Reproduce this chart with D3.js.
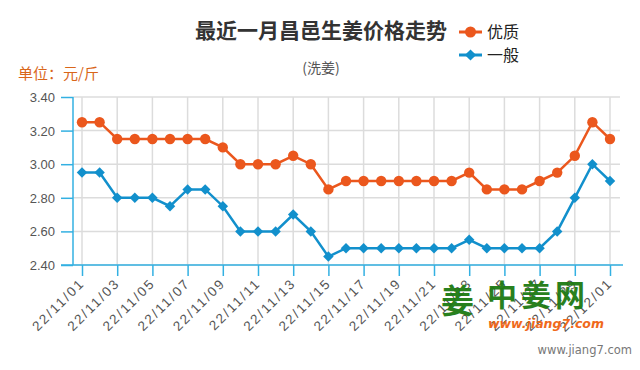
<!DOCTYPE html>
<html>
<head>
<meta charset="utf-8">
<script src="https://cdn.jsdelivr.net/npm/d3@7"></script>
<style>
  body { margin: 0; background: #fff; }
  svg { font-family: "DejaVu Sans", "Noto Sans CJK SC", sans-serif; }
</style>
</head>
<body>
<svg id="chart" width="640" height="370"></svg>
<script>
// dates 22/11/01 .. 22/12/01
var dates = ["22/11/01","22/11/02","22/11/03","22/11/04","22/11/05","22/11/06","22/11/07","22/11/08",
  "22/11/09","22/11/10","22/11/11","22/11/12","22/11/13","22/11/14","22/11/15","22/11/16","22/11/17",
  "22/11/18","22/11/19","22/11/20","22/11/21","22/11/22","22/11/23","22/11/24","22/11/25","22/11/26",
  "22/11/27","22/11/28","22/11/29","22/11/30","22/12/01"];
var youzhi = [3.25,3.25,3.15,3.15,3.15,3.15,3.15,3.15,3.10,3.00,3.00,3.00,3.05,3.00,2.85,2.90,
  2.90,2.90,2.90,2.90,2.90,2.90,2.95,2.85,2.85,2.85,2.90,2.95,3.05,3.25,3.15];
var yiban = [2.95,2.95,2.80,2.80,2.80,2.75,2.85,2.85,2.75,2.60,2.60,2.60,2.70,2.60,2.45,2.50,
  2.50,2.50,2.50,2.50,2.50,2.50,2.55,2.50,2.50,2.50,2.50,2.60,2.80,3.00,2.90];
var yTicks = [2.4, 2.6, 2.8, 3.0, 3.2, 3.4];

var orange = "#eb571d", blue = "#1290cc", axisBlue = "#33b0e2", grid = "#dcdcdc";

var svg = d3.select("#chart");

var x = d3.scaleLinear().domain([0, dates.length - 1]).range([82, 610]);
var y = d3.scaleLinear().domain([2.4, 3.4]).range([265, 97]);

var tickIdx = d3.range(0, dates.length, 2);

// grid
svg.append("g").selectAll("line.h")
  .data(yTicks).enter().append("line")
  .attr("x1", 73).attr("x2", 620)
  .attr("y1", function (d) { return y(d); }).attr("y2", function (d) { return y(d); })
  .attr("stroke", grid).attr("stroke-width", 1.5);

svg.append("g").selectAll("line.v")
  .data(tickIdx).enter().append("line")
  .attr("x1", function (i) { return x(i); }).attr("x2", function (i) { return x(i); })
  .attr("y1", y(3.4)).attr("y2", y(2.4))
  .attr("stroke", grid).attr("stroke-width", 1.5);

// y axis
var yAxis = svg.append("g")
  .attr("transform", "translate(73,0)")
  .call(d3.axisLeft(y).tickValues(yTicks).tickFormat(d3.format(".2f")).tickSize(12).tickPadding(6));
yAxis.select(".domain").attr("stroke", axisBlue).attr("stroke-width", 1.5).attr("d", "M0," + y(3.4) + "V" + y(2.4));
yAxis.selectAll(".tick line").attr("stroke", axisBlue).attr("stroke-width", 1.5);
yAxis.selectAll(".tick text").attr("fill", "#555").style("font-size", "13px").attr("dy", "0.35em");

// x axis
var xAxis = svg.append("g")
  .attr("transform", "translate(0," + y(2.4) + ")")
  .call(d3.axisBottom(x).tickValues(tickIdx).tickFormat(function (i) { return dates[i]; }).tickSize(11));
xAxis.select(".domain").attr("stroke", axisBlue).attr("stroke-width", 1.5).attr("d", "M61,0H623");
xAxis.selectAll(".tick line").attr("stroke", axisBlue).attr("stroke-width", 1.5);
xAxis.selectAll(".tick text")
  .attr("fill", "#555").style("font-size", "13.5px").style("letter-spacing", "2px")
  .attr("text-anchor", "end").attr("dy", null).attr("y", 0)
  .attr("transform", "translate(3,19) rotate(-45)");

// lines
var line = function (vals) {
  return d3.line().x(function (d, i) { return x(i); }).y(function (d) { return y(d); })(vals);
};
svg.append("path").attr("d", line(youzhi)).attr("fill", "none").attr("stroke", orange).attr("stroke-width", 2.5);
svg.append("path").attr("d", line(yiban)).attr("fill", "none").attr("stroke", blue).attr("stroke-width", 2.5);

svg.append("g").selectAll("circle")
  .data(youzhi).enter().append("circle")
  .attr("cx", function (d, i) { return x(i); }).attr("cy", function (d) { return y(d); })
  .attr("r", 5.2).attr("fill", orange);

var diamond = d3.symbol().type(d3.symbolDiamond2).size(70);
svg.append("g").selectAll("path.dm")
  .data(yiban).enter().append("path")
  .attr("d", diamond)
  .attr("transform", function (d, i) { return "translate(" + x(i) + "," + y(d) + ")"; })
  .attr("fill", blue);

// titles
svg.append("text").attr("x", 321).attr("y", 38).attr("text-anchor", "middle")
  .style("font-size", "21px").style("font-weight", "bold").attr("fill", "#333")
  .style("font-family", "'Noto Sans CJK SC'").text("最近一月昌邑生姜价格走势");
svg.append("text").attr("x", 321).attr("y", 73).attr("text-anchor", "middle")
  .style("font-size", "14px").attr("fill", "#555")
  .style("font-family", "'Noto Sans CJK SC'").text("(洗姜)");
svg.append("text").attr("x", 18).attr("y", 79)
  .style("font-size", "15px").attr("fill", "#d9661a")
  .style("font-family", "'Noto Sans CJK SC'").text("单位：元/斤");

// legend
var legend = [{name: "优质", c: orange, y: 32, t: "c"}, {name: "一般", c: blue, y: 55, t: "d"}];
var lg = svg.append("g").selectAll("g").data(legend).enter().append("g");
lg.append("line").attr("x1", 459).attr("x2", 482)
  .attr("y1", function (d) { return d.y; }).attr("y2", function (d) { return d.y; })
  .attr("stroke", function (d) { return d.c; }).attr("stroke-width", 3);
lg.each(function (d) {
  var g = d3.select(this);
  if (d.t == "c") {
    g.append("circle").attr("cx", 470.5).attr("cy", d.y).attr("r", 5.5).attr("fill", d.c);
  } else {
    g.append("path").attr("d", d3.symbol().type(d3.symbolDiamond2).size(80))
      .attr("transform", "translate(470.5," + d.y + ")").attr("fill", d.c);
  }
});
lg.append("text").attr("x", 487).attr("y", function (d) { return d.y + 6; })
  .style("font-size", "16px").attr("fill", "#222")
  .style("font-family", "'Noto Sans CJK SC'").text(function (d) { return d.name; });

// watermark logo
var wm = svg.append("g").attr("opacity", 0.95);
wm.append("text").attr("x", 441).attr("y", 313)
  .style("font-size", "33px").style("font-weight", "bold").attr("fill", "#1d7a12")
  .style("font-family", "'Noto Sans CJK SC'").text("姜");
wm.append("text").attr("x", 487).attr("y", 306)
  .style("font-size", "30px").style("font-weight", "bold").attr("fill", "#1d7a12")
  .style("font-family", "'Noto Sans CJK SC'").style("letter-spacing", "4px").text("中姜网");
wm.append("text").attr("x", 488).attr("y", 328)
  .style("font-size", "12.5px").style("font-weight", "bold").style("font-style", "italic")
  .attr("fill", "#f0620f").style("font-family", "'DejaVu Sans'").text("www.jiang7.com");

svg.append("text").attr("x", 632).attr("y", 354).attr("text-anchor", "end")
  .style("font-size", "11.5px").attr("fill", "#777").text("www.jiang7.com");
</script>
</body>
</html>
